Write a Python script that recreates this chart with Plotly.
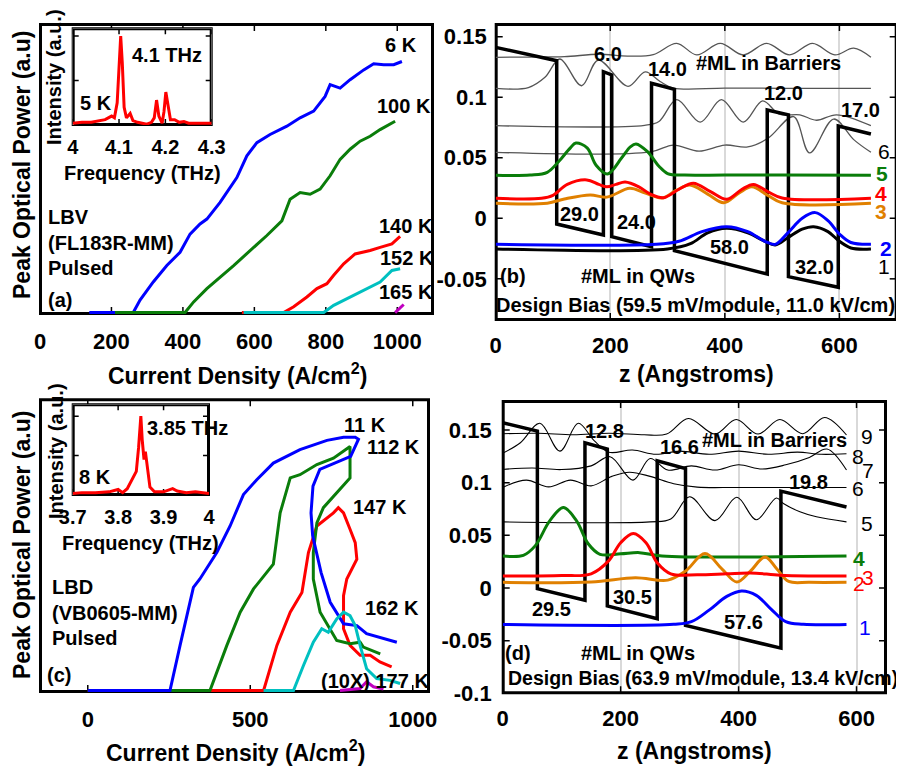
import plotly.graph_objects as go

# page body has an 8px margin -> figure is drawn 8px right/down; compensate
OFF = 8
W, H = 904 - OFF, 766 - OFF
FONT = "Liberation Sans, Arial, Helvetica, sans-serif"

BLUE = "#0000ff"; GREEN = "#0a7d0a"; RED = "#ff0000"; CYAN = "#00c0c0"
MAG = "#c000c0"; ORANGE = "#e08000"; GRAY = "#555555"

# ---------------- Panel (a): LBV (FL183R-MM) light-current ----------------
a_j_6K = [138, 261, 280, 317, 355, 392, 420, 448, 467, 504, 551, 579, 607, 644, 691, 728, 766, 798, 812, 840, 868, 906, 934, 962, 990, 1013]
a_p_6K = [0, 0, 0.043, 0.106, 0.163, 0.209, 0.272, 0.307, 0.324, 0.382, 0.468, 0.543, 0.589, 0.617, 0.646, 0.675, 0.698, 0.749, 0.790, 0.778, 0.807, 0.841, 0.862, 0.859, 0.859, 0.870]
a_j_100K = [210, 406, 430, 467, 542, 598, 635, 677, 686, 700, 728, 756, 784, 812, 840, 868, 896, 924, 952, 994]
a_p_100K = [0, 0, 0.037, 0.083, 0.163, 0.226, 0.267, 0.318, 0.347, 0.393, 0.416, 0.410, 0.428, 0.474, 0.531, 0.566, 0.594, 0.611, 0.634, 0.663]
a_j_140K = [565, 682, 710, 747, 775, 803, 822, 850, 882, 924, 952, 985, 1008]
a_p_140K = [0, 0, 0.020, 0.054, 0.083, 0.100, 0.129, 0.169, 0.203, 0.215, 0.226, 0.238, 0.264]
a_j_152K = [570, 794, 822, 868, 915, 952, 985, 1008]
a_p_152K = [0, 0, 0.025, 0.054, 0.083, 0.106, 0.146, 0.152]
a_j_165K = [994, 1018]
a_p_165K = [0, 0.028]
a_temps = ["6 K", "100 K", "140 K", "152 K", "165 K"]
a_xticks = [0, 200, 400, 600, 800, 1000]

# inset (a) spectrum
a_freq = [4.00, 4.02, 4.04, 4.06, 4.07, 4.084, 4.09, 4.096, 4.100, 4.1036, 4.107, 4.111, 4.116, 4.124, 4.13, 4.14, 4.15, 4.16, 4.17, 4.176, 4.181, 4.186, 4.193, 4.197, 4.201, 4.206, 4.211, 4.22, 4.23, 4.24, 4.25, 4.27, 4.30]
a_int = [0.02, 0.03, 0.03, 0.05, 0.06, 0.10, 0.08, 0.25, 0.75, 1.0, 0.7, 0.2, 0.08, 0.13, 0.05, 0.03, 0.02, 0.01, 0.03, 0.08, 0.28, 0.10, 0.02, 0.15, 0.37, 0.20, 0.06, 0.06, 0.03, 0.04, 0.02, 0.02, 0.02]
a_fticks = [4.0, 4.1, 4.2, 4.3]
a_fticktext = ["4", "4.1", "4.2", "4.3"]

# ---------------- Panel (b): LBV band diagram ----------------
b_band_z = [0, 106.5, 106.5, 188, 188, 202.6, 202.6, 272, 272, 312, 312, 474, 474, 511, 511, 598, 598, 655]
b_band_E = [0.1412, 0.1302, -0.0047, -0.0138, 0.1211, 0.1184, -0.0151, -0.0234, 0.1115, 0.1066, -0.0267, -0.046, 0.0895, 0.0854, -0.0482, -0.057, 0.0763, 0.0697]
b_g1_z = [0, 60, 120, 180, 230, 275, 316, 351, 392, 432, 473, 513, 553, 592, 625, 655]
b_g1_E = [0.133, 0.1332, 0.1335, 0.1355, 0.134, 0.1352, 0.1445, 0.135, 0.1445, 0.135, 0.1445, 0.135, 0.1445, 0.135, 0.1405, 0.133]
b_g2_z = [0, 57, 86, 112, 150, 179, 231, 261, 287, 310, 400, 500, 655]
b_g2_E = [0.1074, 0.108, 0.1165, 0.1316, 0.1095, 0.1307, 0.109, 0.121, 0.113, 0.1076, 0.1076, 0.1074, 0.1074]
b_g3_z = [0, 260, 285, 316, 357, 394, 432, 466, 495, 531, 560, 595, 655]
b_g3_E = [0.0765, 0.0768, 0.080, 0.098, 0.0795, 0.098, 0.0795, 0.097, 0.086, 0.0855, 0.081, 0.0855, 0.0765]
b_g4_z = [0, 270, 310, 355, 400, 440, 475, 520, 548, 590, 625, 655]
b_g4_E = [0.0545, 0.0548, 0.0605, 0.0555, 0.0605, 0.059, 0.066, 0.084, 0.054, 0.082, 0.065, 0.0545]
b_w5_z = [0, 60, 90, 110, 130, 140, 160, 175, 195, 220, 235, 245, 265, 285, 300, 330, 400, 500, 655]
b_w5_E = [0.0355, 0.0357, 0.038, 0.047, 0.058, 0.0622, 0.058, 0.044, 0.0366, 0.050, 0.059, 0.0614, 0.055, 0.043, 0.037, 0.0357, 0.0358, 0.0357, 0.0355]
b_w4_z = [0, 80, 100, 125, 159, 180, 194, 210, 226, 250, 270, 293, 320, 345, 375, 403, 430, 450, 475, 500, 655]
b_w4_E = [0.0165, 0.0166, 0.019, 0.028, 0.0317, 0.028, 0.026, 0.028, 0.030, 0.026, 0.020, 0.017, 0.024, 0.029, 0.022, 0.0157, 0.024, 0.028, 0.022, 0.0168, 0.0165]
b_w3_z = [0, 90, 120, 165, 194, 234, 260, 290, 315, 339, 370, 398, 425, 447, 475, 500, 655]
b_w3_E = [0.0124, 0.0125, 0.016, 0.0193, 0.0175, 0.0248, 0.021, 0.0168, 0.023, 0.0275, 0.020, 0.0129, 0.021, 0.026, 0.019, 0.0128, 0.0124]
b_w2_z = [0, 280, 320, 360, 403, 440, 470, 488, 510, 535, 558, 580, 600, 620, 655]
b_w2_E = [-0.0215, -0.0215, -0.019, -0.011, -0.0069, -0.011, -0.019, -0.0215, -0.012, 0.000, 0.0047, -0.002, -0.013, -0.020, -0.0215]
b_w1_z = [0, 300, 340, 370, 403, 440, 470, 488, 510, 535, 555, 580, 600, 620, 655]
b_w1_E = [-0.0253, -0.0253, -0.021, -0.012, -0.0083, -0.012, -0.019, -0.022, -0.016, -0.009, -0.0069, -0.011, -0.019, -0.0245, -0.0253]
b_barrier_ml = ["6.0", "14.0", "12.0", "17.0"]
b_well_ml = ["29.0", "24.0", "58.0", "32.0"]
b_yticks = [-0.05, 0, 0.05, 0.1, 0.15]
b_yticktext = ["-0.05", "0", "0.05", "0.1", "0.15"]

# ---------------- Panel (c): LBD (VB0605-MM) light-current ----------------
c_j_11K = [0, 253, 284, 325, 345, 397, 438, 479, 520, 571, 653, 736, 787, 823, 833, 809, 714, 693, 687, 692, 718, 746, 787, 828, 858, 899, 951]
c_p_11K = [0, 0, 0.155, 0.354, 0.383, 0.474, 0.565, 0.673, 0.724, 0.781, 0.827, 0.859, 0.870, 0.870, 0.863, 0.804, 0.759, 0.702, 0.610, 0.531, 0.405, 0.303, 0.229, 0.223, 0.195, 0.183, 0.166]
c_j_112K = [0, 376, 428, 469, 510, 571, 592, 623, 653, 705, 756, 807, 807, 725, 705, 694, 694, 715, 766, 807, 838, 848, 900]
c_p_112K = [0, 0, 0.155, 0.269, 0.349, 0.434, 0.610, 0.730, 0.741, 0.776, 0.798, 0.838, 0.730, 0.628, 0.576, 0.474, 0.383, 0.269, 0.172, 0.161, 0.166, 0.149, 0.126]
c_j_147K = [0, 541, 582, 623, 659, 679, 705, 756, 771, 787, 807, 823, 828, 797, 787, 787, 807, 838, 869, 899, 935]
c_p_147K = [0, 0, 0.155, 0.269, 0.337, 0.474, 0.565, 0.610, 0.628, 0.610, 0.554, 0.508, 0.451, 0.383, 0.326, 0.212, 0.155, 0.121, 0.121, 0.098, 0.081]
c_j_162K = [541, 633, 664, 694, 720, 740, 766, 787, 807, 823, 838, 858, 889, 930, 961]
c_p_162K = [0, 0, 0.087, 0.166, 0.212, 0.200, 0.246, 0.269, 0.257, 0.223, 0.155, 0.075, 0.041, 0.035, 0.024]
c_j_177K = [776, 838, 858, 879, 910]
c_p_177K = [0, 0.007, 0.030, 0.013, 0.005]
c_temps = ["11 K", "112 K", "147 K", "162 K", "(10X) 177 K"]
c_xticks = [0, 500, 1000]

# inset (c) spectrum
c_freq = [3.70, 3.72, 3.75, 3.78, 3.80, 3.81, 3.82, 3.83, 3.84, 3.845, 3.85, 3.853, 3.857, 3.86, 3.865, 3.87, 3.88, 3.90, 3.92, 3.93, 3.95, 3.97, 4.00]
c_int = [0.02, 0.03, 0.03, 0.04, 0.07, 0.03, 0.08, 0.2, 0.3, 0.6, 1.0, 0.7, 0.45, 0.55, 0.3, 0.1, 0.04, 0.04, 0.08, 0.05, 0.03, 0.04, 0.02]
c_fticks = [3.7, 3.8, 3.9, 4.0]
c_fticktext = ["3.7", "3.8", "3.9", "4"]

# ---------------- Panel (d): LBD band diagram ----------------
d_band_z = [0, 58.8, 58.8, 139.5, 139.5, 177.4, 177.4, 262, 262, 310, 310, 471.8, 471.8, 583]
d_band_E = [0.157, 0.149, -0.0006, -0.0117, 0.138, 0.132, -0.0171, -0.0292, 0.1208, 0.1135, -0.0355, -0.0571, 0.092, 0.077]
d_g9_z = [0, 60, 120, 180, 240, 278, 315, 360, 396, 433, 470, 509, 546, 583]
d_g9_E = [0.1465, 0.147, 0.1455, 0.147, 0.1455, 0.1462, 0.161, 0.1462, 0.160, 0.1462, 0.160, 0.1465, 0.162, 0.1453]
d_g8_z = [0, 30, 63, 97, 128, 155, 180, 220, 260, 300, 350, 400, 450, 500, 540, 583]
d_g8_E = [0.128, 0.138, 0.1564, 0.130, 0.1564, 0.140, 0.129, 0.131, 0.127, 0.130, 0.127, 0.130, 0.127, 0.129, 0.127, 0.1275]
d_g7_z = [0, 50, 100, 150, 182, 221, 250, 280, 320, 360, 400, 440, 480, 520, 550, 583]
d_g7_E = [0.1126, 0.114, 0.1125, 0.116, 0.1247, 0.1025, 0.123, 0.112, 0.116, 0.112, 0.117, 0.113, 0.117, 0.124, 0.132, 0.112]
d_g6_z = [0, 40, 78, 115, 150, 185, 215, 250, 290, 330, 400, 583]
d_g6_E = [0.0955, 0.1025, 0.096, 0.1025, 0.097, 0.106, 0.110, 0.106, 0.099, 0.0958, 0.0955, 0.0955]
d_g5_z = [0, 250, 285, 317, 360, 397, 430, 464, 476, 504, 532, 583]
d_g5_E = [0.0628, 0.0628, 0.0655, 0.0866, 0.064, 0.0862, 0.0648, 0.0855, 0.0803, 0.0724, 0.0676, 0.0628]
d_w4_z = [0, 35, 55, 80, 103, 125, 145, 165, 200, 232, 270, 583]
d_w4_E = [0.0304, 0.031, 0.040, 0.064, 0.0764, 0.064, 0.042, 0.032, 0.0325, 0.0336, 0.0305, 0.0304]
d_w3_z = [0, 100, 150, 180, 200, 221.5, 243, 262, 285, 330, 380, 420, 470, 520, 583]
d_w3_E = [0.0114, 0.0118, 0.0135, 0.026, 0.043, 0.0517, 0.043, 0.024, 0.0135, 0.0125, 0.0135, 0.0143, 0.0122, 0.0115, 0.0114]
d_w2_z = [0, 150, 225, 280, 310, 343, 372, 397, 420, 445, 465, 485, 520, 583]
d_w2_E = [0.0054, 0.0058, 0.0098, 0.0075, 0.016, 0.0327, 0.018, 0.0057, 0.016, 0.0295, 0.018, 0.0062, 0.0054, 0.0054]
d_w1_z = [0, 290, 320, 350, 380, 405, 430, 455, 480, 510, 583]
d_w1_E = [-0.0346, -0.0345, -0.032, -0.021, -0.008, -0.0029, -0.007, -0.02, -0.032, -0.0345, -0.0346]
d_barrier_ml = ["12.8", "16.6", "19.8"]
d_well_ml = ["29.5", "30.5", "57.6"]
d_yticks = [-0.1, -0.05, 0, 0.05, 0.1, 0.15]
d_yticktext = ["-0.1", "-0.05", "0", "0.05", "0.1", "0.15"]
z_ticks = [0, 200, 400, 600]


def PX(x):
    return (x - OFF) / W


def PY(y):
    return 1 - (y - OFF) / H


# panel geometry in page pixels (left, top, right, bottom) and axis ranges
GEO = {
    "a": (40, 24, 433, 314), "ai": (72.7, 28.3, 211.7, 125),
    "b": (495.7, 24, 896.7, 320), "c": (40, 399.3, 429, 692),
    "ci": (72.7, 404.3, 209, 495), "d": (502.7, 401, 886, 693.3),
}
XR = {"a": [0, 1100], "ai": [4.0, 4.3], "b": [0, 700], "c": [-147, 1050], "ci": [3.7, 4.0], "d": [0, 650]}
YR = {"a": [-0.005, 1.0], "ai": [0, 1.087], "b": [-0.084, 0.1605], "c": [-0.005, 1.0], "ci": [0, 1.15], "d": [-0.1, 0.1776]}
AX = {"a": ("x", "y"), "ai": ("x2", "y2"), "b": ("x3", "y3"), "c": ("x4", "y4"), "ci": ("x5", "y5"), "d": ("x6", "y6")}

fig = go.Figure()


def line(x, y, color, width, xa, ya, spline=False):
    fig.add_trace(go.Scatter(
        x=x, y=y, mode="lines", xaxis=xa, yaxis=ya, showlegend=False,
        hoverinfo="skip",
        line=dict(color=color, width=width, shape="spline" if spline else "linear", smoothing=1.0)))


def frame(k, xt, yt, tl=6):
    """box + inward ticks drawn through the panel's own axes, kept 1 px inside the edge"""
    l, t, r, b = GEO[k]
    x0, x1 = XR[k]
    y0, y1 = YR[k]
    xa, ya = AX[k]
    ux = (x1 - x0) / (r - l)     # data units per pixel
    uy = (y1 - y0) / (b - t)
    ix0, ix1 = x0 + 1.0 * ux, x1 - 1.0 * ux
    iy0, iy1 = y0 + 1.0 * uy, y1 - 1.0 * uy
    tx, ty = [], []
    for v in xt:
        tx += [v, v, None, v, v, None]
        ty += [iy0, iy0 + tl * uy, None, iy1 - tl * uy, iy1, None]
    for v in yt:
        tx += [ix0, ix0 + tl * ux, None, ix1 - tl * ux, ix1, None]
        ty += [v, v, None, v, v, None]
    if tx:
        line(tx, ty, "black", 1.5, xa, ya)
    line([ix0, ix1, ix1, ix0, ix0], [iy0, iy0, iy1, iy1, iy0], "black", 2, xa, ya)


frame("a", a_xticks, [])
frame("ai", a_fticks, [0.5, 1.0], tl=5)
frame("b", z_ticks, b_yticks)
frame("c", c_xticks, [])
frame("ci", c_fticks, [0.5, 1.0], tl=5)
frame("d", z_ticks, d_yticks)

# (a)
for xs, ys, c in [(a_j_6K, a_p_6K, BLUE), (a_j_100K, a_p_100K, GREEN), (a_j_140K, a_p_140K, RED),
                  (a_j_152K, a_p_152K, CYAN), (a_j_165K, a_p_165K, MAG)]:
    line(xs, ys, c, 3, "x", "y")
line(a_freq, a_int, RED, 3, "x2", "y2")

# (b)
for xs, ys in [(b_g1_z, b_g1_E), (b_g2_z, b_g2_E), (b_g3_z, b_g3_E), (b_g4_z, b_g4_E)]:
    line(xs, ys, GRAY, 1.3, "x3", "y3", spline=True)
line(b_band_z, b_band_E, "black", 3.5, "x3", "y3")
for xs, ys, c in [(b_w5_z, b_w5_E, GREEN), (b_w3_z, b_w3_E, ORANGE), (b_w4_z, b_w4_E, RED),
                  (b_w1_z, b_w1_E, "black"), (b_w2_z, b_w2_E, BLUE)]:
    line(xs, ys, c, 3, "x3", "y3", spline=True)

# (c)
for xs, ys, c in [(c_j_147K, c_p_147K, RED), (c_j_112K, c_p_112K, GREEN), (c_j_11K, c_p_11K, BLUE),
                  (c_j_162K, c_p_162K, CYAN), (c_j_177K, c_p_177K, MAG)]:
    line(xs, ys, c, 3, "x4", "y4")
line(c_freq, c_int, RED, 3, "x5", "y5")

# (d)
for xs, ys in [(d_g9_z, d_g9_E), (d_g8_z, d_g8_E), (d_g7_z, d_g7_E), (d_g6_z, d_g6_E), (d_g5_z, d_g5_E)]:
    line(xs, ys, "black", 1.1, "x6", "y6", spline=True)
line(d_band_z, d_band_E, "black", 3.5, "x6", "y6")
for xs, ys, c in [(d_w4_z, d_w4_E, GREEN), (d_w2_z, d_w2_E, ORANGE), (d_w3_z, d_w3_E, RED),
                  (d_w1_z, d_w1_E, BLUE)]:
    line(xs, ys, c, 3, "x6", "y6", spline=True)


def axis(k, which, **kw):
    l, t, r, b = GEO[k]
    if which == "x":
        d = dict(domain=[PX(l), PX(r)], range=XR[k], anchor=AX[k][1])
    else:
        d = dict(domain=[PY(b), PY(t)], range=YR[k], anchor=AX[k][0])
    d.update(showline=False, ticks="", showgrid=False, zeroline=False, fixedrange=True,
             automargin=False, tickfont=dict(family=FONT, size=22, color="black", weight="bold"))
    d.update(kw)
    return d


layout = dict(
    template="none",
    width=W, height=H, autosize=False, margin=dict(l=0, r=0, t=0, b=0, pad=0),
    paper_bgcolor="white", plot_bgcolor="white", showlegend=False,
    font=dict(family=FONT, color="black"),
)
ifont = dict(family=FONT, size=20, color="black", weight="bold")
layout["xaxis"] = axis("a", "x", tickvals=a_xticks, ticklabelstandoff=12)
layout["yaxis"] = axis("a", "y", showticklabels=False)
layout["xaxis2"] = axis("ai", "x", tickvals=a_fticks, ticktext=a_fticktext, tickfont=ifont,
                        ticklabelstandoff=8)
layout["yaxis2"] = axis("ai", "y", showticklabels=False)
layout["xaxis3"] = axis("b", "x", tickvals=z_ticks, showgrid=True, gridcolor="#d9d9d9",
                        gridwidth=1.5, ticklabelstandoff=10)
layout["yaxis3"] = axis("b", "y", tickvals=b_yticks, ticktext=b_yticktext, ticklabelstandoff=8)
layout["xaxis4"] = axis("c", "x", tickvals=c_xticks, ticklabelstandoff=12)
layout["yaxis4"] = axis("c", "y", showticklabels=False)
layout["xaxis5"] = axis("ci", "x", tickvals=c_fticks, ticktext=c_fticktext, tickfont=ifont,
                        ticklabelstandoff=8)
layout["yaxis5"] = axis("ci", "y", showticklabels=False)
layout["xaxis6"] = axis("d", "x", tickvals=z_ticks, showgrid=True, gridcolor="#d9d9d9",
                        gridwidth=1.5, ticklabelstandoff=10)
layout["yaxis6"] = axis("d", "y", tickvals=d_yticks, ticktext=d_yticktext, ticklabelstandoff=10)
fig.update_layout(**layout)

# panel boxes also as paper-referenced rectangles
shapes = []
for k in GEO:
    l, t, r, b = GEO[k]
    shapes.append(dict(type="rect", xref="paper", yref="paper", x0=PX(l), x1=PX(r), y0=PY(b), y1=PY(t),
                       line=dict(color="black", width=2), fillcolor="rgba(0,0,0,0)", layer="below"))
fig.update_layout(shapes=shapes)

ann = []


def T(text, x, y, size=20, xanchor="center", color="black", bold=True, angle=0, xref="paper", yref="paper"):
    if xref == "paper":
        x = PX(x)
        y = PY(y)
    ann.append(dict(text=text, x=x, y=y, xref=xref, yref=yref, xanchor=xanchor, yanchor="middle",
                    showarrow=False, textangle=angle,
                    font=dict(family=FONT, size=size, color=color, weight="bold" if bold else "normal")))


# axis titles
T("Peak Optical Power (a.u)", 22, 165, size=23, angle=-90)
T("Peak Optical Power (a.u)", 22, 545, size=23, angle=-90)
T("Current Density (A/cm<sup>2</sup>)", 237, 374, size=23)
T("Current Density (A/cm<sup>2</sup>)", 235, 751, size=23)
T("z (Angstroms)", 696, 374, size=23)
T("z (Angstroms)", 694, 751, size=23)
T("Intensity (a.u.)", 54, 77, size=20, angle=-90)
T("Intensity (a.u.)", 56, 451, size=20, angle=-90)
T("Frequency (THz)", 142, 173, size=20)
T("Frequency (THz)", 140, 543, size=20)
T("4.1 THz", 167, 55)
T("5 K", 96, 103)
T("3.85 THz", 187, 428)
T("8 K", 95, 477)

# (a) labels
for txt, yy in zip(["LBV", "(FL183R-MM)", "Pulsed", "(a)"], [217, 243, 268, 300]):
    T(txt, 46, yy, xanchor="left")
for txt, (xx, yy) in zip(a_temps, [(401, 45), (404, 106), (406, 226), (407, 258), (406, 292)]):
    T(txt, xx, yy)
# (c) labels
for txt, yy in zip(["LBD", "(VB0605-MM)", "Pulsed"], [587, 613, 638]):
    T(txt, 50, yy, xanchor="left")
T("(c)", 45, 675, xanchor="left")
for txt, (xx, yy) in zip(c_temps, [(365, 425), (393, 447), (380, 507), (392, 608), (375, 681)]):
    T(txt, xx, yy)

# (b) labels (data coordinates)
for txt, (xx, yy) in zip(b_barrier_ml, [(196, 0.1357), (300, 0.1233), (503, 0.1032), (637, 0.0894)]):
    T(txt, xx, yy, xref="x3", yref="y3")
for txt, (xx, yy) in zip(b_well_ml, [(146, 0.0036), (246, -0.0028), (408, -0.024), (556, -0.040)]):
    T(txt, xx, yy, xref="x3", yref="y3")
T("#ML in Barriers", 477, 0.128, xref="x3", yref="y3")
T("#ML in QWs", 249, -0.0477, xref="x3", yref="y3")
T("(b)", 31, -0.0477, xref="x3", yref="y3")
T("Design Bias (59.5 mV/module, 11.0 kV/cm)", 349, -0.0716, xref="x3", yref="y3")
for txt, xx, yy, c, b in [("6", 678, 0.055, "black", False), ("5", 675, 0.0366, GREEN, True),
                          ("4", 673, 0.0206, RED, True), ("3", 673, 0.0055, ORANGE, True),
                          ("2", 681, -0.0248, BLUE, True), ("1", 677, -0.040, "black", False)]:
    T(txt, xx, yy, size=21, color=c, bold=b, xref="x3", yref="y3")

# (d) labels
for txt, (xx, yy) in zip(d_barrier_ml, [(172, 0.1494), (300, 0.1336), (519, 0.1009)]):
    T(txt, xx, yy, xref="x6", yref="y6")
for txt, (xx, yy) in zip(d_well_ml, [(82, -0.0196), (220, -0.0086), (408, -0.0323)]):
    T(txt, xx, yy, xref="x6", yref="y6")
T("#ML in Barriers", 461, 0.1405, xref="x6", yref="y6")
T("#ML in QWs", 230, -0.0618, xref="x6", yref="y6")
T("(d)", 26.5, -0.0618, xref="x6", yref="y6")
T("Design Bias (63.9 mV/module, 13.4 kV/cm)", 340, -0.0856, size=19.5, xref="x6", yref="y6")
for txt, xx, yy, c, b in [("9", 617, 0.1437, "black", False), ("8", 603, 0.1253, "black", False),
                          ("7", 620, 0.1113, "black", False), ("6", 603, 0.0946, "black", False),
                          ("5", 618, 0.0613, "black", False), ("4", 604, 0.028, GREEN, True),
                          ("2", 604, 0.0042, RED, False), ("3", 620, 0.0099, RED, False),
                          ("1", 614, -0.0377, BLUE, False)]:
    T(txt, xx, yy, size=21, color=c, bold=b, xref="x6", yref="y6")

fig.update_layout(annotations=ann)
fig.write_html("out.html")
